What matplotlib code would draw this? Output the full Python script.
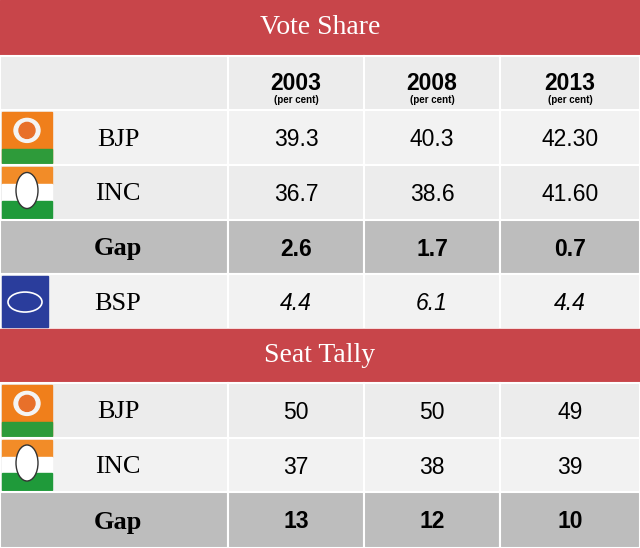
import matplotlib
matplotlib.use("Agg")
import matplotlib.pyplot as plt
from matplotlib.patches import Rectangle, Ellipse

years = ["2003", "2008", "2013"]
vote_bjp = ["39.3", "40.3", "42.30"]
vote_inc = ["36.7", "38.6", "41.60"]
vote_gap = ["2.6", "1.7", "0.7"]
vote_bsp = ["4.4", "6.1", "4.4"]
seat_bjp = ["50", "50", "49"]
seat_inc = ["37", "38", "39"]
seat_gap = ["13", "12", "10"]

W, H = 640, 548
fig = plt.figure(figsize=(6.4, 5.48), dpi=100)
ax = fig.add_axes([0, 0, 1, 1])
ax.set_xlim(0, W); ax.set_ylim(H, 0); ax.axis("off")

RED = "#c8454a"; LIGHT = "#ececec"; ALT = "#f2f2f2"; GAPC = "#bdbdbd"
cols = [0, 228, 364, 500, 640]
centers = [(cols[i] + cols[i + 1]) / 2 for i in range(1, 4)]
SERIF = "Liberation Serif"; SANS = "Liberation Sans"

def band(y0, y1, text):
    ax.add_patch(Rectangle((0, y0), W, y1 - y0, color=RED))
    ax.text(W / 2, (y0 + y1) / 2, text, color="white", fontsize=20, family=SERIF,
            ha="center", va="center")

def grid_row(y0, y1, color):
    for i in range(4):
        ax.add_patch(Rectangle((cols[i], y0), cols[i + 1] - cols[i], y1 - y0,
                               facecolor=color, edgecolor="white", lw=1.5))

def logo(kind, y0, y1):
    h = y1 - y0 - 4
    if kind == "BJP":
        ax.add_patch(Rectangle((2, y0 + 2), 50, h, color="#f07f1b"))
        ax.add_patch(Rectangle((2, y0 + 2 + h * 0.72), 50, h * 0.28, color="#2e9b3a"))
        ax.add_patch(Ellipse((27, y0 + h * 0.4), 26, 24, color="#f4f4f4"))
        ax.add_patch(Ellipse((27, y0 + h * 0.4), 16, 16, color="#e8702a"))
    elif kind == "INC":
        ax.add_patch(Rectangle((2, y0 + 2), 50, h / 3, color="#f28c28"))
        ax.add_patch(Rectangle((2, y0 + 2 + h / 3), 50, h / 3, color="white"))
        ax.add_patch(Rectangle((2, y0 + 2 + 2 * h / 3), 50, h / 3, color="#1f9a3a"))
        ax.add_patch(Ellipse((27, y0 + h * 0.5), 22, 36, facecolor="white", edgecolor="#333", lw=1))
    else:
        ax.add_patch(Rectangle((2, y0 + 2), 46, h, color="#2a3d9c"))
        ax.add_patch(Ellipse((25, y0 + h * 0.55), 34, 20, facecolor="none", edgecolor="white", lw=1.2))

def data_row(y0, y1, label, vals, color, kind=None, bold=False, italic=False):
    grid_row(y0, y1, color)
    yc = (y0 + y1) / 2 + 2
    if kind:
        logo(kind, y0, y1)
        ax.text(118, yc, label, fontsize=19, family=SERIF, ha="center", va="center")
    else:
        ax.text(118, yc, label, fontsize=19, family=SERIF, weight="bold", ha="center", va="center")
    for c, v in zip(centers, vals):
        ax.text(c, yc, v, fontsize=16.5, family=SANS, ha="center", va="center",
                weight="bold" if bold else "normal", style="italic" if italic else "normal")

band(0, 56, "Vote Share")
grid_row(56, 110, LIGHT)
for c, y in zip(centers, years):
    ax.text(c, 83, y, fontsize=16.5, family=SANS, weight="bold", ha="center", va="center")
    ax.text(c, 100, "(per cent)", fontsize=7, family=SANS, weight="bold", ha="center", va="center")
data_row(110, 165, "BJP", vote_bjp, ALT, "BJP")
data_row(165, 220, "INC", vote_inc, LIGHT, "INC")
data_row(220, 274, "Gap", vote_gap, GAPC, bold=True)
data_row(274, 329, "BSP", vote_bsp, ALT, "BSP", italic=True)
band(329, 383, "Seat Tally")
data_row(383, 438, "BJP", seat_bjp, LIGHT, "BJP")
data_row(438, 492, "INC", seat_inc, ALT, "INC")
data_row(492, 548, "Gap", seat_gap, GAPC, bold=True)

fig.savefig("out.png", dpi=100)
